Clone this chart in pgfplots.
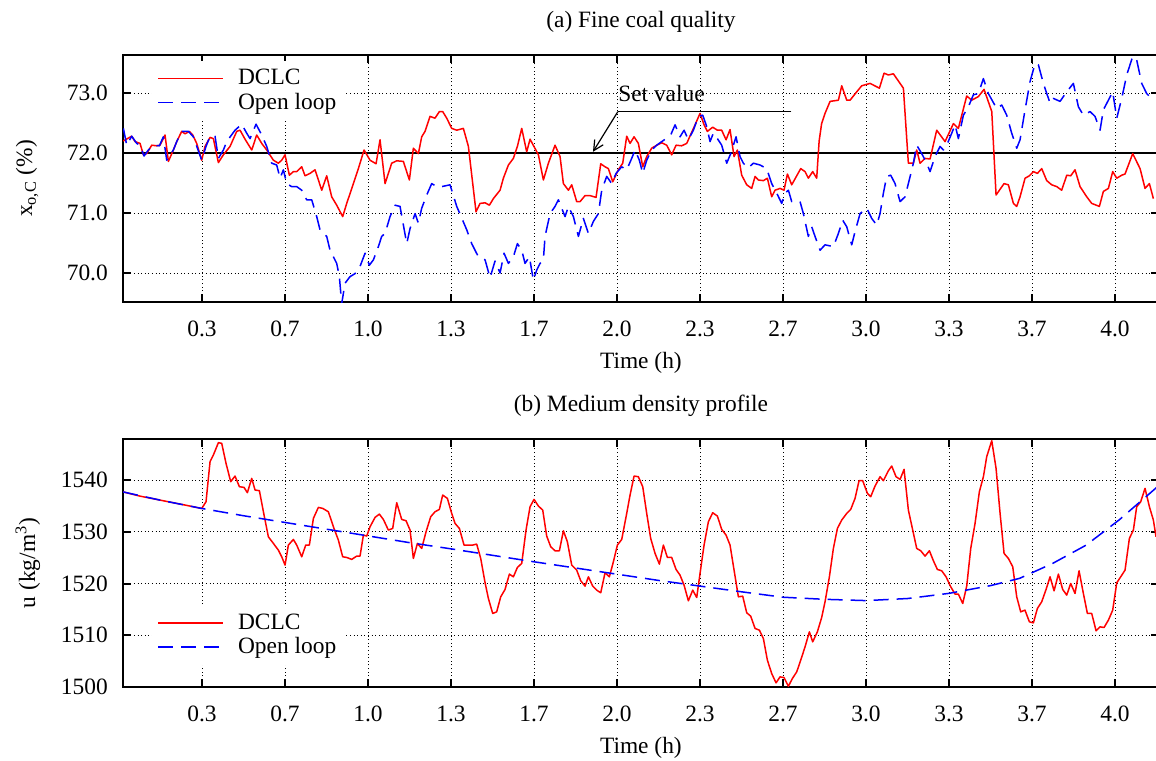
\documentclass[border=0pt]{standalone}
\usepackage{fontspec}
\setmainfont{Liberation Serif}
\usepackage{pgfplots}
\pgfplotsset{compat=1.18}
\usetikzlibrary{arrows.meta}
\newcommand{\fs}{\fontsize{11.7}{13}\selectfont}
\pgfplotsset{
  gp/.style={
    scale only axis, width=517.7pt, height=123.5pt,
    xmin=1, xmax=250.5,
    xtick={20,40,...,240},
    xticklabels={0.3,0.7,1.0,1.3,1.7,2.0,2.3,2.7,3.0,3.3,3.7,4.0},
    tick align=inside, tick pos=both,
    major tick length=4pt,
    tick style={black, line width=1pt},
    axis line style={line width=1.2pt},
    grid=major,
    grid style={black, line width=0.45pt, dash pattern=on 0.5pt off 1.3pt},
    every tick label/.append style={font=\fs},
    xticklabel style={anchor=base, yshift=-17pt},
    yticklabel style={anchor=east, inner sep=0pt, xshift=-7.5pt},
    title style={at={(axis description cs:0.5,1)}, anchor=base, yshift=8pt, font=\fs},
    xlabel style={at={(axis description cs:0.5,0)}, anchor=base, yshift=-33pt, font=\fs},
    ylabel style={anchor=base, font=\fs},
    legend style={draw=none, fill=white, font=\fs, cells={anchor=west}, row sep=-1.5pt},
    legend image code/.code={\draw[##1] (0pt,0pt) -- (32.5pt,0pt); \path (37.5pt,0pt);},
    /pgf/number format/assume math mode=true,
    clip=true,
  },
  dclc/.style={red, line width=0.75pt, line join=round},
  ol/.style={blue, line width=0.75pt, line join=round, dash pattern=on 7.5pt off 4pt},
}
\begin{document}
\begin{tikzpicture}
\begin{axis}[gp, name=top, at={(0,0)}, anchor=north west,
  ymin=69.517, ymax=73.633,
  ytick={70,71,72,73}, yticklabels={70.0,71.0,72.0,73.0},
  title={(a) Fine coal quality},
  xlabel={Time (h)},
  ylabel={x\textsubscript{o,C} (\%)},
  ylabel style={at={(axis description cs:-0.0879,0.5)}},
  legend style={at={(axis description cs:0,1)}, anchor=north west, xshift=14pt, yshift=-3pt},
]
\addplot[black, line width=1.2pt, forget plot] coordinates {(1,72) (250.5,72)};
\addplot[dclc] table {
1.0 72.20
2.01 72.24
3.05 72.28
3.86 72.19
5.06 72.16
5.86 71.97
6.67 71.99
7.87 72.13
9.08 72.12
9.88 72.13
11.08 72.30
11.89 71.86
13.09 72.05
13.9 72.19
15.1 72.36
15.9 72.32
16.95 72.36
17.75 72.30
18.71 72.16
19.92 71.88
20.72 72.11
21.93 72.26
22.73 72.24
23.94 71.84
25.14 71.97
26.75 72.11
28.35 72.36
29.16 72.38
30.36 72.23
31.97 72.05
33.17 72.30
34.38 72.16
35.58 72.05
37.19 71.88
38.39 71.83
39.2 71.88
40.0 71.97
41.04 71.63
42.01 71.69
42.81 71.69
44.02 71.77
44.82 71.62
46.02 71.66
47.23 71.72
48.84 71.38
50.04 71.62
51.24 71.27
52.45 71.13
53.89 70.94
54.86 71.16
56.47 71.49
57.67 71.74
59.04 72.05
60.48 71.88
61.93 71.82
62.89 72.22
64.1 71.49
65.7 71.83
66.91 71.87
68.51 71.86
69.96 71.55
70.92 72.08
72.13 71.99
72.93 72.27
73.73 72.36
74.94 72.61
76.14 72.58
77.19 72.69
77.99 72.69
78.96 72.58
80.16 72.41
81.37 72.38
82.97 72.41
84.18 72.11
86.02 71.02
86.99 71.16
88.2 71.17
89.24 71.13
90.2 71.24
91.81 71.38
92.61 71.58
93.82 71.80
95.02 71.91
95.99 72.11
97.03 72.41
98.23 72.02
99.04 72.23
101.05 71.97
102.25 71.55
103.46 71.83
105.06 72.13
106.27 71.94
107.07 71.49
108.28 71.38
109.08 71.47
110.28 71.19
111.09 71.19
112.29 71.29
113.5 71.29
114.94 71.26
116.07 71.82
117.11 71.77
117.91 71.74
118.96 71.52
120.32 71.72
121.37 71.83
122.33 72.28
123.14 72.16
124.1 72.27
125.14 72.16
126.19 71.77
127.15 71.94
128.35 72.08
129.56 72.13
130.77 72.17
131.97 72.13
133.17 71.97
134.22 72.13
135.58 72.12
136.79 72.16
138.8 72.47
140.0 72.66
140.97 72.47
141.77 72.36
143.05 72.43
144.18 72.38
145.22 72.38
146.27 72.22
147.23 72.39
148.2 71.94
149.0 72.05
150.04 71.63
151.25 71.47
152.45 71.41
153.26 71.61
154.06 71.55
155.26 71.54
156.23 71.58
157.27 71.27
158.07 71.38
159.28 71.41
160.24 71.38
161.05 71.65
162.09 71.47
164.26 71.74
165.3 71.69
166.1 71.58
167.15 71.69
168.11 71.58
168.7 72.20
169.3 72.49
170.12 72.66
171.33 72.86
173.34 72.88
174.14 73.12
175.35 72.88
176.15 72.88
177.76 73.02
178.96 73.12
180.97 73.16
183.22 73.08
184.34 73.33
185.39 73.30
186.59 73.32
189.0 73.08
190.2 71.83
191.41 71.83
192.21 72.05
193.02 71.83
194.22 71.91
195.43 71.90
197.03 72.38
199.04 72.19
201.05 72.49
202.25 72.41
204.26 72.95
205.47 72.88
207.07 72.94
208.44 73.06
210.3 72.69
211.33 71.30
213.26 71.49
214.3 71.47
215.51 71.16
216.31 71.11
217.11 71.27
218.32 71.58
219.36 71.62
220.33 71.69
221.29 71.66
222.33 71.74
223.54 71.54
224.74 71.47
225.95 71.44
227.15 71.38
228.36 71.63
229.32 71.62
230.36 71.72
231.57 71.44
233.18 71.27
234.38 71.16
236.23 71.11
237.19 71.36
238.4 71.41
239.44 71.69
240.41 71.58
241.61 71.63
242.41 71.65
244.26 71.99
246.03 71.74
247.23 71.41
248.28 71.49
249.24 71.24
};
\addlegendentry{DCLC}
\addplot[ol] table {
1.04 72.41
1.85 72.13
3.05 72.28
4.26 72.16
5.06 72.13
6.02 71.95
7.07 72.05
8.27 72.13
9.72 72.12
10.68 72.27
11.49 71.88
13.09 72.05
13.9 72.19
15.1 72.36
16.71 72.36
17.91 72.27
19.92 71.88
20.96 72.11
21.93 72.28
23.13 72.28
23.94 71.91
25.14 72.05
25.94 72.19
27.95 72.38
29.56 72.48
30.76 72.33
31.57 72.24
33.01 72.48
34.38 72.30
35.58 72.11
36.79 71.83
37.99 71.80
38.8 71.58
39.6 71.72
40.4 71.49
41.6 71.44
42.81 71.44
44.02 71.38
45.22 71.22
46.43 71.22
47.63 70.94
48.43 70.72
50.04 70.61
50.84 70.38
52.45 70.16
53.09 69.94
53.65 69.49
54.46 69.83
55.66 69.94
56.87 69.99
58.07 70.11
59.28 70.33
60.32 70.13
61.29 70.22
62.49 70.44
63.29 70.61
64.1 70.66
65.3 70.94
66.51 71.13
67.71 71.11
69.32 70.49
70.12 70.74
71.33 70.99
72.13 70.83
72.93 71.08
74.14 71.30
75.34 71.49
76.55 71.44
77.75 71.44
79.76 71.47
81.37 71.11
83.78 70.72
84.98 70.49
86.59 70.27
88.2 70.22
89.4 69.92
90.6 70.20
91.81 70.00
92.77 70.33
93.82 70.16
95.02 70.27
95.99 70.49
97.03 70.38
97.83 70.16
98.88 70.27
99.84 69.88
100.65 70.05
101.45 70.16
102.25 70.22
102.65 70.61
103.86 70.99
105.06 71.11
105.87 71.22
106.67 71.08
107.47 70.94
108.28 71.11
109.48 70.94
110.69 70.61
111.89 70.91
113.1 70.66
114.3 70.86
115.5 70.99
116.31 71.38
117.51 71.61
118.72 71.49
119.76 71.66
121.12 71.77
122.33 71.72
123.53 71.91
124.34 72.05
125.38 71.88
126.19 71.66
127.15 71.88
128.35 72.05
129.56 72.13
130.77 72.19
131.81 72.24
132.93 72.30
133.98 72.47
135.18 72.27
136.15 72.38
137.19 72.22
138.4 72.38
139.6 72.61
140.65 72.63
141.61 72.44
142.41 72.19
143.21 72.33
144.18 72.24
145.22 72.13
146.43 71.83
147.39 71.99
148.68 72.27
149.64 71.94
150.44 71.83
151.6 71.75
152.85 71.83
154.46 71.80
156.07 71.74
157.27 71.49
158.48 71.33
159.68 71.16
160.48 71.33
161.29 71.38
162.09 71.19
164.1 71.19
164.9 70.99
166.1 70.61
166.91 70.77
167.71 70.61
168.92 70.38
170.12 70.47
172.13 70.44
173.34 70.66
174.38 70.88
175.35 70.77
176.55 70.47
177.35 70.69
178.56 70.99
180.17 71.08
181.37 70.91
182.57 70.80
183.38 70.99
184.18 71.33
184.98 71.61
185.95 71.63
186.99 71.49
188.2 71.19
189.4 71.27
190.2 71.49
191.41 71.83
192.21 72.13
193.42 71.99
194.62 71.83
195.43 71.69
196.63 71.94
197.84 72.11
198.64 72.05
199.44 72.13
200.65 72.33
201.45 72.47
202.25 72.24
203.46 72.63
204.66 72.77
205.87 72.97
207.07 72.99
208.28 73.24
209.48 72.99
211.49 72.74
212.7 72.80
213.9 72.63
215.1 72.33
216.31 72.08
217.11 72.22
218.32 72.72
219.52 73.19
220.73 73.49
221.53 73.47
222.73 73.16
224.34 72.83
225.14 72.91
226.75 72.86
228.36 73.02
229.96 73.16
231.17 72.77
232.37 72.63
233.98 72.69
235.18 72.61
236.39 72.38
237.19 72.72
238.4 72.88
239.44 73.02
240.41 72.58
241.61 72.91
242.82 73.30
244.26 73.61
245.22 73.55
246.43 73.16
247.63 72.99
248.84 72.91
249.65 72.91
};
\addlegendentry{Open loop}
\draw[black, line width=0.6pt] (axis cs:162.0,72.69) -- (axis cs:120.2,72.69);
\draw[black, line width=0.6pt, -{Straight Barb[length=5pt,width=5pt]}] (axis cs:120.2,72.69) -- (axis cs:114.2,72.02);
\node[anchor=base west, inner sep=0pt, font=\fs] at (axis cs:120.2,72.855) {Set value};
\end{axis}

\begin{axis}[gp, name=bot, at={(0,-192pt)}, anchor=north west, height=124pt,
  ymin=1500, ymax=1547.93,
  ytick={1500,1510,1520,1530,1540},
  yticklabels={1500,1510,1520,1530,1540},
  title={(b) Medium density profile},
  xlabel={Time (h)},
  ylabel={u (kg/m\textsuperscript{3})},
  ylabel style={at={(axis description cs:-0.085,0.5)}},
  legend style={at={(axis description cs:0,0)}, anchor=south west, xshift=14pt, yshift=11pt},
]
\addplot[dclc] table {
1.0 1537.7
5 1536.9
10 1536.1
16.3 1535.1
19.92 1534.5
20.96 1535.81
21.93 1543.55
22.73 1544.84
23.94 1547.22
24.74 1547.09
25.78 1543.22
26.91 1539.68
27.95 1540.77
29.0 1538.71
30.12 1538.58
30.92 1537.55
31.97 1540.32
32.77 1538.07
33.82 1537.94
34.94 1533.23
35.98 1529.04
37.19 1527.75
38.39 1526.46
39.2 1525.17
40.0 1523.56
40.8 1527.43
42.01 1528.52
42.81 1527.43
44.02 1525.17
44.98 1527.43
45.86 1527.43
46.83 1532.59
48.03 1534.71
49.08 1534.52
50.44 1533.87
51.65 1530.97
52.85 1528.39
53.89 1525.17
54.86 1525.04
56.06 1524.66
57.27 1525.30
58.07 1525.30
58.88 1529.36
59.68 1529.17
60.48 1530.97
61.69 1532.78
62.73 1533.42
63.69 1532.39
64.9 1530.33
65.94 1530.65
66.91 1535.62
68.11 1532.39
69.16 1532.13
70.12 1530.33
70.92 1524.85
71.89 1527.75
72.93 1526.78
73.98 1530.01
75.1 1532.91
76.14 1533.87
77.19 1534.33
77.99 1537.10
79.12 1536.45
80.16 1533.55
80.96 1531.62
82.01 1530.65
83.13 1527.43
84.42 1527.43
85.22 1527.43
86.18 1527.62
87.15 1524.85
88.19 1520.2
89.0 1517.11
90.04 1514.21
91.0 1514.53
91.97 1517.43
93.01 1518.85
94.06 1521.82
95.02 1521.30
95.99 1523.11
97.03 1523.88
98.07 1530.33
99.04 1534.84
100.0 1536.26
101.05 1534.97
102.09 1534.20
103.05 1529.17
104.02 1527.11
105.06 1526.33
106.11 1526.33
107.07 1530.20
108.03 1528.07
109.08 1523.56
110.28 1522.59
111.25 1520.53
112.29 1519.50
113.1 1521.30
114.14 1519.50
115.1 1518.72
116.07 1518.21
117.11 1522.08
118.15 1521.30
119.12 1524.20
120.08 1527.43
121.13 1528.52
122.33 1533.55
123.14 1537.10
124.1 1540.77
125.14 1540.64
126.19 1538.71
127.15 1533.55
128.11 1528.72
129.16 1525.82
130.2 1523.75
131.17 1527.43
132.13 1525.04
133.17 1525.04
134.22 1522.72
135.18 1521.62
136.15 1519.69
137.19 1516.66
138.24 1518.72
139.2 1517.30
140.0 1521.95
140.97 1527.43
142.01 1531.94
143.05 1533.68
144.18 1533.04
145.22 1530.46
146.27 1529.36
147.23 1527.43
148.2 1522.59
149.24 1517.43
150.28 1517.56
151.25 1514.34
152.21 1513.69
153.26 1511.31
154.3 1510.99
155.26 1509.37
156.23 1505.18
157.27 1502.60
158.31 1500.80
159.28 1501.96
160.24 1501.83
161.29 1500.15
162.25 1501.64
163.3 1502.93
164.26 1505.18
165.3 1507.76
166.35 1510.66
167.15 1508.73
168.27 1510.66
169.3 1513.4
170.12 1516.47
171.17 1521.30
172.13 1526.78
173.1 1530.65
174.14 1532.26
175.35 1533.55
176.31 1534.33
177.35 1536.45
178.32 1539.87
179.2 1539.87
180.33 1537.42
181.13 1536.78
182.17 1538.84
183.38 1540.64
184.18 1539.87
185.39 1541.81
186.19 1542.71
187.23 1540.64
188.2 1540.13
189.16 1542.06
190.2 1534.20
191.25 1530.33
192.21 1526.78
193.18 1526.33
194.22 1525.30
195.27 1526.33
196.23 1524.40
197.19 1522.72
198.24 1522.46
199.28 1521.30
200.41 1519.37
201.45 1517.95
202.25 1517.95
203.3 1516.14
204.26 1519.50
205.23 1526.78
206.27 1531.62
207.31 1537.74
208.28 1540.64
209.08 1544.51
210.29 1547.61
211.33 1542.26
212.3 1533.55
213.26 1525.82
214.3 1524.85
215.35 1523.24
216.31 1517.43
217.27 1514.53
218.3 1514.86
219.36 1512.60
220.33 1512.40
221.29 1515.18
222.33 1516.47
223.38 1518.85
224.34 1521.30
225.31 1518.59
226.35 1521.82
227.39 1518.85
228.36 1517.76
229.32 1520.01
230.36 1518.08
231.33 1522.46
232.37 1518.08
233.34 1514.21
234.38 1514.21
235.43 1510.86
236.39 1511.63
237.35 1511.50
238.4 1512.92
239.44 1514.86
240.41 1520.14
241.37 1521.30
242.41 1522.59
243.46 1528.72
244.42 1530.33
245.22 1534.84
246.19 1535.81
247.23 1538.39
248.28 1534.84
249.24 1532.26
249.88 1529.04
};
\addlegendentry{DCLC}
\addplot[ol] table {
1 1537.7
10 1536.1
20 1534.5
30 1533.1
40 1531.8
50 1530.5
60 1529.2
70 1527.9
80 1526.7
90 1525.45
100 1524.2
110 1523.0
120 1521.8
130 1520.6
140 1519.5
150 1518.4
160 1517.35
170 1516.95
180 1516.7
190 1517.1
200 1518.1
210 1519.6
217 1521.0
225 1523.9
233 1527.4
241 1532.3
250.5 1538.9
};
\addlegendentry{Open loop}
\end{axis}
\pgfresetboundingbox
\path[use as bounding box] (-61.6pt,27.5pt) rectangle (516.4pt,-352.5pt);
\end{tikzpicture}
\end{document}
